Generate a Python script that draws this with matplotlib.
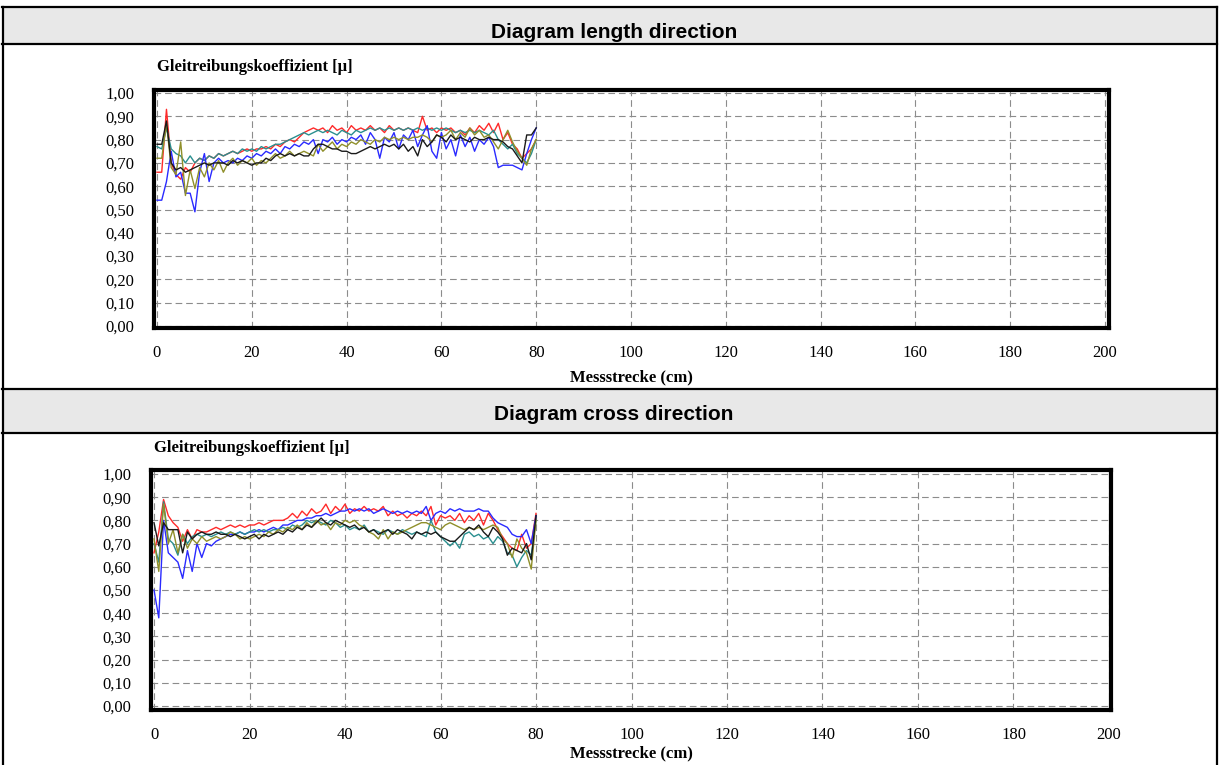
import numpy as np
import matplotlib
matplotlib.use("Agg")
import matplotlib.pyplot as plt
from matplotlib.patches import Rectangle
from matplotlib.lines import Line2D

# measuring distance in cm, one reading per cm
dist_cm = list(range(0, 81))

red_len = [.66, .66, .93, .70, .65, .63, .68, .66, .70, .72, .71,
           .73, .72, .74, .73, .74, .75, .74, .75, .76, .75,
           .76, .76, .77, .76, .78, .77, .79, .80, .79, .81,
           .83, .84, .85, .84, .85, .83, .86, .84, .85, .83,
           .86, .84, .85, .84, .86, .84, .85, .83, .86, .84,
           .85, .84, .85, .84, .83, .90, .84, .85, .83, .85,
           .84, .85, .83, .84, .82, .85, .83, .86, .84, .87,
           .83, .87, .80, .83, .78, .76, .72, .74, .76, .80]
teal_len = [.77, .76, .85, .76, .74, .73, .70, .73, .70, .72, .71,
            .73, .72, .74, .73, .74, .75, .74, .76, .75, .76,
            .75, .77, .76, .77, .78, .78, .79, .80, .81, .82,
            .83, .82, .83, .84, .83, .84, .83, .82, .84, .83,
            .82, .84, .83, .84, .85, .84, .85, .84, .85, .84,
            .85, .84, .85, .84, .85, .84, .85, .84, .85, .84,
            .85, .84, .83, .84, .83, .84, .83, .84, .83, .82,
            .84, .80, .78, .76, .78, .74, .72, .70, .74, .80]
blue_len = [.54, .54, .62, .75, .64, .66, .57, .57, .49, .66, .74,
            .62, .70, .72, .70, .71, .70, .72, .71, .73, .72,
            .74, .73, .75, .74, .76, .74, .77, .76, .78, .77,
            .79, .78, .80, .74, .80, .79, .81, .78, .80, .79,
            .81, .80, .82, .78, .83, .80, .72, .81, .79, .83,
            .76, .82, .80, .84, .77, .82, .86, .75, .72, .83,
            .76, .80, .73, .82, .77, .81, .75, .80, .78, .81,
            .77, .68, .69, .69, .69, .68, .67, .74, .80, .85]
olive_len = [.72, .72, .87, .68, .65, .79, .56, .67, .59, .68, .64,
             .70, .67, .71, .66, .70, .72, .69, .71, .70, .72,
             .69, .71, .70, .72, .74, .72, .73, .75, .73, .74,
             .75, .74, .73, .78, .75, .77, .79, .76, .78, .77,
             .79, .78, .80, .79, .78, .80, .79, .81, .80, .81,
             .80, .81, .80, .81, .81, .82, .81, .79, .82, .81,
             .82, .84, .80, .83, .81, .85, .82, .84, .81, .82,
             .79, .76, .80, .84, .79, .75, .72, .69, .76, .80]
black_len = [.78, .78, .88, .70, .67, .68, .66, .67, .68, .69, .70,
             .69, .70, .70, .70, .69, .71, .70, .71, .70, .69,
             .70, .70, .72, .71, .73, .74, .73, .74, .73, .74,
             .73, .73, .76, .78, .78, .77, .76, .76, .75, .75,
             .74, .74, .75, .76, .77, .76, .77, .78, .77, .78,
             .76, .78, .75, .77, .73, .80, .77, .79, .82, .81,
             .79, .82, .80, .81, .80, .79, .81, .80, .80, .81,
             .80, .80, .79, .77, .76, .73, .70, .82, .82, .85]

red_cross = [.66, .75, .89, .82, .79, .77, .71, .76, .72, .76, .75,
             .75, .76, .77, .76, .77, .78, .77, .78, .77, .78,
             .78, .79, .78, .79, .80, .80, .80, .81, .83, .81,
             .84, .82, .85, .83, .84, .87, .83, .86, .84, .87,
             .83, .85, .84, .86, .84, .85, .84, .86, .82, .84,
             .82, .83, .81, .83, .82, .84, .82, .86, .78, .82,
             .81, .82, .80, .83, .79, .82, .80, .83, .78, .83,
             .80, .76, .73, .70, .68, .67, .74, .68, .70, .83]
blue_cross = [.50, .38, .80, .66, .64, .62, .55, .67, .58, .70, .64,
              .70, .69, .71, .72, .73, .74, .74, .75, .74, .75,
              .75, .76, .75, .76, .77, .76, .78, .78, .79, .80,
              .80, .81, .81, .82, .82, .83, .82, .83, .84, .84,
              .85, .84, .85, .84, .85, .83, .84, .85, .84, .83,
              .84, .83, .84, .83, .84, .83, .86, .80, .83, .84,
              .83, .85, .84, .85, .84, .84, .84, .85, .84, .84,
              .81, .79, .78, .77, .74, .73, .73, .76, .70, .82]
teal_cross = [.70, .62, .88, .72, .70, .65, .74, .70, .73, .74, .73,
              .74, .73, .74, .75, .74, .75, .74, .75, .74, .75,
              .76, .75, .76, .75, .76, .76, .77, .76, .78, .77,
              .78, .80, .79, .80, .79, .78, .80, .79, .77, .78,
              .76, .77, .76, .78, .75, .76, .75, .74, .76, .75,
              .74, .76, .75, .74, .75, .74, .73, .80, .75, .73,
              .71, .69, .71, .68, .74, .75, .73, .74, .72, .73,
              .70, .73, .71, .66, .65, .60, .64, .67, .65, .80]
olive_cross = [.72, .58, .87, .70, .76, .66, .74, .68, .72, .70, .73,
               .71, .72, .73, .72, .73, .75, .74, .72, .73, .72,
               .73, .74, .73, .75, .74, .76, .75, .77, .76, .78,
               .76, .79, .77, .80, .78, .79, .76, .79, .78, .80,
               .79, .80, .78, .77, .75, .74, .72, .76, .72, .75,
               .74, .75, .76, .77, .78, .79, .79, .78, .77, .76,
               .78, .79, .78, .77, .76, .77, .76, .77, .76, .77,
               .78, .77, .72, .70, .64, .72, .68, .66, .59, .80]
black_cross = [.79, .69, .79, .76, .76, .76, .66, .75, .72, .74, .75,
               .74, .74, .75, .74, .74, .73, .74, .73, .72, .73,
               .74, .72, .74, .73, .74, .75, .74, .76, .75, .77,
               .76, .78, .77, .79, .81, .79, .78, .80, .79, .78,
               .77, .78, .76, .77, .75, .76, .74, .75, .76, .74,
               .76, .75, .74, .72, .75, .74, .75, .74, .75, .73,
               .72, .71, .71, .73, .75, .77, .76, .78, .75, .73,
               .77, .75, .72, .65, .68, .67, .66, .70, .63, .82]

x_ticks = list(range(0, 201, 20))
y_ticks = [round(0.1 * i, 1) for i in range(11)]
y_ticklabels = [f"{v:.2f}".replace(".", ",") for v in y_ticks]

headers = ["Diagram length direction", "Diagram cross direction"]
y_title = "Gleitreibungskoeffizient [\u00b5]"
x_title = "Messstrecke (cm)"

colors = ["#ff2a2a", "#2a8f8f", "#2a2aff", "#8f8f2a", "#1a1a1a"]
length_series = [red_len, teal_len, blue_len, olive_len, black_len]
cross_series = [red_cross, blue_cross, teal_cross, olive_cross, black_cross]
cross_colors = ["#ff2a2a", "#2a2aff", "#2a8f8f", "#8f8f2a", "#1a1a1a"]

W, H = 1219, 765
fig = plt.figure(figsize=(W / 100, H / 100), dpi=100)
serif = "Liberation Serif"


def fx(px):
    return px / W


def fy(py):
    return 1 - py / H


# table: grey header rows and black rules
for top, bot in [(8, 44), (389, 433)]:
    fig.patches.append(Rectangle((fx(3), fy(bot)), fx(1213), (bot - top) / H,
                                 transform=fig.transFigure, facecolor="#e8e8e8",
                                 edgecolor="none", zorder=0))
for py in [7, 44, 389, 433]:
    fig.lines.append(Line2D([fx(2), fx(1217)], [fy(py), fy(py)], transform=fig.transFigure,
                            color="black", lw=1.6))
for px in [2.5, 1216.5]:
    fig.lines.append(Line2D([fx(px), fx(px)], [fy(7), fy(765)], transform=fig.transFigure,
                            color="black", lw=1.6))

fig.text(fx(614), fy(32), headers[0], ha="center", va="center", fontsize=15,
         fontweight="bold", family="Liberation Sans")
fig.text(fx(614), fy(415), headers[1], ha="center", va="center", fontsize=15,
         fontweight="bold", family="Liberation Sans")


def draw_panel(box, xlim, ylim, series, cols, title_xy, xlabel_pad):
    ax = fig.add_axes(box)
    for ys, c in zip(series, cols):
        ax.plot(dist_cm, ys, color=c, lw=1.0, zorder=3)
    ax.set_xlim(*xlim)
    ax.set_ylim(*ylim)
    ax.set_xticks(x_ticks)
    ax.set_yticks(y_ticks)
    ax.set_yticklabels(y_ticklabels)
    ax.grid(True, color="#8c8c8c", lw=0.8, linestyle=(0, (6, 3.5)))
    ax.tick_params(length=0, labelsize=12, pad=12)
    ax.tick_params(axis="y", pad=14)
    for lab in ax.get_xticklabels() + ax.get_yticklabels():
        lab.set_family(serif)
    for s in ax.spines.values():
        s.set_linewidth(3.0)
        s.set_color("black")
    ax.set_xlabel(x_title, family=serif, fontweight="bold", fontsize=12,
                  labelpad=xlabel_pad)
    fig.text(fx(title_xy[0]), fy(title_xy[1]), y_title, family=serif,
             fontweight="bold", fontsize=12, ha="left", va="center")
    return ax


draw_panel([fx(154), fy(328), fx(955), 238 / H], (-0.63, 200.84), (-0.0086, 1.0129),
           length_series, colors, (157, 67), 6)
draw_panel([fx(151), fy(710), fx(960), 240 / H], (-0.63, 200.42), (-0.017, 1.017),
           cross_series, cross_colors, (154, 448), 2)

fig.savefig("out.png", dpi=100)
